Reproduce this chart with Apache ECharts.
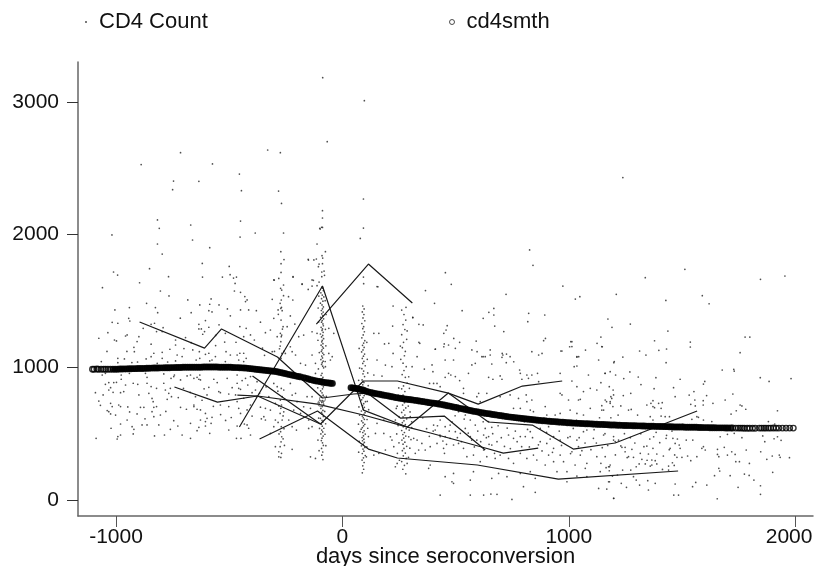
<!DOCTYPE html>
<html>
<head>
<meta charset="utf-8">
<style>html,body{margin:0;padding:0;background:#fff}#chart{width:815px;height:566px}</style>
<script src="https://cdn.jsdelivr.net/npm/echarts@6/dist/echarts.min.js"></script>
</head>
<body>
<div id="chart"></div>
<script>
// Everything below: [days, cd4]

const xTicks = [-1000, 0, 1000, 2000];
const yTicks = [0, 1000, 2000, 3000];

// scatter, left of seroconversion
const dotsLeft = [
[-87,3182],[-67,2700],[-330,2637],[-274,2617],[-715,2617],[-889,2527],[-574,2532],[-455,2456],[-746,2403],[-634,2401],[-750,2338],[-446,2331],[-282,2328],[-269,2235],[-817,2110],[-450,2102],[-670,2072],[-809,2047],[-1018,1997],[-385,2012],[-260,2012],[-452,1981],[-662,1959],[-817,1929],[-586,1901],[-796,1853],[-150,1808],[-619,1783],[-500,1760],[-852,1743],[-1011,1718],[-993,1695],[-496,1698],[-768,1683],[-618,1680],[-530,1680],[-468,1680],[-481,1672],[-218,1680],[-128,1655],[-301,1657],[-896,1637],[-474,1632],[-178,1625],[-260,1620],[-134,1612],[-1060,1600],
[-804,1575],[-683,1508],[-580,1515],[-630,1470],[-586,1475],[-545,1470],[-941,1450],[-826,1450],[-816,1412],[-1005,1432],[-590,1427],[-576,1417],[-477,1575],[-450,1565],[-431,1533],[-421,1508],[-428,1495],[-450,1432],[-414,1432],[-380,1427],[-944,1369],[-939,1349],[-1017,1339],[-992,1332],[-1036,1261],[-605,1352],[-634,1324],[-634,1289],[-623,1289],[-590,1302],[-609,1269],[-617,1249],[-830,1332],[-845,1324],[-880,1294],[-792,1299],[-796,1269],[-821,1269],[-951,1244],[-958,1236],[-1076,1219],[-1007,1206],[-998,1199],[-899,1231],[-907,1194],[-845,1174],[-737,1206],[-737,1168],[-693,1224],[-453,1307],[-425,1294],[-406,1244],[-389,1206],[-436,1231],[-470,1189],[-517,1256],[-514,1118],[-661,1131],[-632,1118],[-605,1098],[-590,1106],[-921,1151],[-919,1118],[-762,1136],[-833,1106],[-796,1113],[-730,1093],[-737,1048],[-708,1081],[-646,1055],[-630,1068],[-576,1055],[-561,1081],[-586,1048],[-992,1068],[-992,1035],[-963,1063],[-867,1063],[-818,1030],[-796,1068],[-495,1093],[-465,1093],[-453,1106],[-436,1106],[-458,1055],[-436,1043],[-425,1068],[-517,1043],
[-1061,942],[-1047,955],[-977,910],[-977,942],[-941,955],[-870,955],[-863,925],[-789,950],[-742,942],[-1032,885],[-1010,885],[-998,887],[-1047,872],[-1024,847],[-1032,829],[-958,867],[-966,817],[-980,809],[-1091,809],[-1057,792],[-1076,746],[-1024,729],[-988,716],[-980,704],[-1032,666],[-1039,674],[-1017,704],[-924,880],[-904,872],[-863,880],[-845,855],[-789,880],[-821,842],[-760,842],[-782,829],[-767,804],[-755,779],[-774,759],[-855,804],[-899,792],[-841,766],[-836,741],[-892,699],[-877,699],[-833,699],[-821,704],[-951,603],[-980,573],[-929,553],[-921,533],[-924,498],[-1022,541],[-885,566],[-863,566],[-811,566],[-980,490],[-992,478],[-1088,465],[-995,460],[-833,628],[-841,666],[-804,641],[-907,649],[-1024,649],
[-745,930],[-757,917],[-715,905],[-686,935],[-671,942],[-656,917],[-642,925],[-630,942],[-627,905],[-634,910],[-568,910],[-553,885],[-546,817],[-590,849],[-598,792],[-649,779],[-715,699],[-689,684],[-656,716],[-642,684],[-627,679],[-605,653],[-598,616],[-627,603],[-656,704],[-745,598],[-727,558],[-760,533],[-671,578],[-634,548],[-642,523],[-605,591],[-605,558],[-580,578],[-576,623],[-830,483],[-786,490],[-708,490],[-671,465],[-586,503],[-502,528],[-465,558],[-433,573],[-421,566],[-414,541],[-406,490],[-468,465],[-448,465],
[-509,917],[-465,942],[-428,917],[-406,930],[-443,900],[-465,880],[-377,892],[-418,867],[-458,842],[-450,834],[-539,809],[-502,799],[-487,847],[-472,792],[-436,767],[-399,809],[-384,829],[-380,779],[-539,716],[-502,704],[-465,742],[-450,653],[-421,679],[-399,633],[-406,716],[-458,691],
[-303,1658],[-218,1683],[-178,1628],[-134,1658],[-151,1587],[-238,1532],[-219,1507],[-310,1512],[-284,1432],[-230,1387],[-303,1369],[-210,1326],[-244,1306],[-318,1281],[-340,1261],[-288,1231],[-134,1268],[-60,1294],[-38,1256],[-171,1243],[-193,1231],[-112,1256],[-230,1155],[-252,1105],[-310,1118],[-222,1118],[-185,1030],[-207,1093],[-163,1017],[-134,1093],[-119,1030],[-60,1105],[-53,1055],[-45,1080],[-75,1005],[-119,954],
[-303,879],[-288,854],[-259,829],[-222,791],[-207,804],[-230,879],[-156,779],[-200,741],[-171,703],[-134,779],[-141,691],[-215,678],[-296,728],[-340,691],[-347,628],[-318,678],[-296,603],[-237,603],[-222,553],[-203,527],[-149,540],[-134,553],[-185,653],[-303,553],[-318,502],[-340,603],[-296,402],[-281,364],[-281,326],[-222,382],[-141,326],[-119,314],[-149,603],[-151,1814],[-126,1809],[-112,1929],[-75,1871],
[-698,1001],[-702,842],[-611,838],[-1013,812],[-1069,714],[-1002,640],[-948,702],[-940,664],[-872,612],[-780,668],[-725,772],[-672,811],[-620,752],[-570,706],[-538,644],[-516,600],[-491,622],[-362,700],[-358,612],[-366,804],[-337,853],[-325,780],[-300,1120],[-344,1090],[-520,1190],[-560,1164],[-700,1141],[-668,1186],[-952,1120],[-1040,1120],[-1065,1043],[-1020,980],[-930,1036],[-905,1040],[-845,1080],[-772,1040],[-560,1240],[-545,1320],[-716,1370],[-668,1412],[-865,1482],[-766,1538],[-495,1388],[-508,1440],[-353,1145],[-362,1340]
];

// stacks of visits around day -270
const dotsVisitA = [
[-272,1871],[-271,1781],[-271,1715],[-273,1595],[-268,1582],[-270,1507],[-275,1482],[-269,1452],[-272,1444],[-266,1427],[-271,1356],[-274,1256],[-268,1243],[-270,1231],[-272,1193],[-275,1160],[-267,1105],[-271,1068],[-270,841],[-266,779],[-274,753],[-269,716],[-272,691],[-275,653],[-266,603],[-270,553],[-273,515],[-268,477],[-271,439],[-275,402],[-269,352],[-272,321],
[-258,1812],[-281,1670],[-260,1540],[-283,1399],[-262,1306],[-265,1288],[-278,1140],[-259,1120],[-285,820],[-255,760],[-281,708],[-259,665],[-262,634],[-284,585],[-258,538],[-280,498],[-262,461],[-256,412]
];

// stack of visits around day -90
const dotsVisitB = [
[-88,2180],[-88,2125],[-88,2054],[-98,2042],[-92,2055],[-100,2047],[-90,1841],[-87,1823],[-115,1816],[-103,1778],[-88,1781],[-106,1758],[-81,1725],[-91,1718],[-79,1693],[-91,1683],[-103,1642],[-112,1615],[-91,1602],[-87,1596],[-84,1578],[-95,1561],[-89,1544],[-82,1530],[-92,1517],[-86,1498],[-97,1483],[-90,1470],[-84,1455],[-88,1441],[-93,1428],[-85,1416],[-91,1403],[-87,1388],[-96,1376],[-83,1365],[-89,1352],[-92,1340],[-86,1327],[-84,1313],[-94,1301],[-88,1289],[-90,1278],[-85,1264],[-97,1251],[-87,1240],[-92,1229],[-83,1216],[-89,1203],[-91,1192],[-86,1178],[-94,1167],[-88,1155],[-84,1144],[-90,1132],[-93,1120],[-87,1107],[-82,1096],[-91,1085],[-88,1071],[-95,1058],[-85,1046],[-89,1035],[-92,1022],[-87,1009],[-83,996],[-90,955],[-94,940],[-86,925],[-89,912],[-92,870],[-84,853],[-88,838],[-96,822],[-90,808],[-85,790],[-93,775],[-87,750],[-91,735],[-83,720],[-89,704],[-95,690],[-86,675],[-92,661],[-88,647],[-84,630],[-97,616],[-90,601],[-86,588],[-93,572],[-89,557],[-82,541],[-91,527],[-87,513],[-95,498],[-85,482],[-90,466],[-93,448],[-88,431],[-84,412],[-92,389],[-87,362],[-91,338],[-86,305],
[-104,1537],[-76,1502],[-107,1447],[-72,1398],[-105,1342],[-75,1286],[-108,1204],[-73,1162],[-102,1111],[-76,1044],[-106,988],[-74,884],[-109,846],[-71,782],[-103,732],[-78,668],[-105,618],[-74,575],[-101,540],[-77,496],[-108,452],[-73,410],[-103,372]
];

// stack of visits around day 95
const dotsVisitC = [
[97,3009],[93,2268],[93,2049],[79,1971],[93,1680],[94,1630],[90,1462],[96,1440],[88,1417],[95,1398],[91,1372],[99,1351],[86,1330],[94,1306],[90,1291],[97,1268],[92,1244],[86,1222],[99,1201],[94,1183],[89,1166],[96,1150],[91,1131],[85,1116],[98,1100],[93,1084],[88,1067],[95,1045],[90,1029],[101,1012],[86,990],[94,972],[91,951],[98,930],[87,905],[95,886],[90,868],[83,850],[99,834],[93,818],[88,803],[96,787],[91,771],[85,755],[102,741],[94,726],[89,712],[97,699],[92,685],[84,671],[100,658],[95,646],[88,633],[92,620],[97,608],[85,596],[91,583],[99,571],[94,559],[88,546],[83,534],[96,522],[90,509],[101,497],[93,484],[87,471],[95,459],[89,447],[97,434],[92,421],[84,409],[99,396],[91,384],[95,368],[88,351],[101,335],[93,318],[87,301],[96,283],[90,258],[94,232],[88,205],
[108,1188],[74,1142],[110,1060],[76,994],[112,958],[72,902],[114,862],[78,790],[110,744],[73,702],[116,681],[76,640],[109,607],[71,572],[112,541],[78,515],[115,478],[74,442],[108,400],[72,361],[106,326]
];

// stack of visits around day 270
const dotsVisitD = [
[262,1431],[272,1398],[280,1356],[268,1322],[276,1285],[262,1246],[284,1211],[270,1188],[265,1148],[278,1120],[274,1087],[258,1060],[268,1031],[282,1005],[272,976],[264,945],[278,925],[286,882],[270,860],[262,838],[276,818],[268,791],[283,772],[258,755],[274,734],[266,716],[280,694],[271,678],[262,660],[276,641],[268,626],[284,612],[272,597],[265,583],[278,568],[269,553],[282,538],[262,524],[274,509],[267,494],[280,482],[271,467],[263,452],[276,436],[268,421],[284,405],[272,389],[265,372],[278,354],[269,333],[282,314],[262,290],[274,262],[267,232],[280,198],
[296,842],[247,790],[302,751],[242,707],[299,664],[250,628],[306,590],[246,561],[295,527],[240,498],[303,456],[250,431],[298,391],[243,352],[292,322],[252,300],[306,546],[238,690],[291,708],[249,845]
];

// scatter, right of seroconversion
const dotsRight = [
[455,1713],[481,1625],[157,1607],[827,1884],[842,1768],[974,1612],[1239,2429],[1513,1738],[1338,1675],[1847,1663],[1955,1688],[1590,1540],[1049,1532],[1029,1514],[1210,1550],[1429,1504],[1620,1479],[1173,1364],[1272,1326],[1191,1301],[1438,1273],[1142,1228],[1779,1228],[1800,1228],[1014,1193],[1379,1200],[1537,1190],[1004,1155],[1148,1155],[1537,1153],[1398,1128],[1432,1138],[1313,1123],[965,1123],[1757,1110],[1341,1092],[1036,1077],[1239,1077],
[367,1578],[723,1550],[407,1482],[529,1427],[669,1444],[647,1414],[669,1394],[622,1369],[823,1407],[894,1394],[311,1377],[819,1344],[338,1324],[357,1319],[463,1314],[673,1311],[713,1269],[286,1274],[458,1281],[448,1256],[492,1218],[338,1188],[411,1138],[595,1118],[622,1080],[448,1155],[499,1143],[897,1218],[1125,1181],[1074,1130],[1044,1080],[882,1105],[725,1100],[706,1105],[757,1042],
[224,1462],[153,1608],[281,1452],[311,1374],[222,1311],[161,1256],[139,1256],[186,1176],[205,1181],[224,1105],[153,1055],[190,1017],[139,942],[175,934],[219,1005],[342,1181],[256,1160],[330,1080],[308,1005],[293,929],[190,377],[139,339],[153,578],[183,502],[212,477],[227,402],[234,603],[219,452],[293,477],[315,465],[337,377],[322,352],[300,628],[330,452],[242,276],[234,251],[286,276],[161,352],[146,502],[183,603],
[410,1136],[450,1176],[469,1168],[518,1188],[591,1198],[572,1131],[653,1131],[616,1080],[631,1080],[653,1093],[705,1075],[709,1093],[741,1080],[837,1118],[867,1093],[889,1201],[970,1123],[1009,1193],[1014,1156],[1146,1156],[1036,1080],[1132,1055],[1201,1043],[1024,1005],[1036,1010],[1087,942],[1161,955],[454,1055],[491,1055],[396,1018],[362,987],[400,967],[469,955],[479,942],[499,930],[518,900],[454,925],[403,879],[385,879],[418,879],[432,854],[535,842],[557,955],[587,1030],[572,1018],[660,1025],[724,1035],[646,925],[665,910],[705,910],[697,935],[783,980],[786,955],[815,942],[837,942],[862,955],[822,917],[867,892],[793,910],[962,955],[1014,897],[1036,854],[1065,817],[1095,842],[962,804],[970,792],[999,754],[1051,759],[1043,754],[1124,829],[1161,754],[1198,792],[1190,766],[1183,729],[1146,678],[1095,691],[1065,641],[1036,653],[1006,678],[962,653],[940,641],[903,641],[844,666],[830,678],[896,704],[837,754],[812,792],[815,741],[778,766],[741,792],[756,691],[786,691],[697,779],[638,804],[602,804],[594,779],[609,741],[535,804],
[513,666],[543,641],[565,603],[587,565],[646,591],[660,548],[631,540],[624,490],[646,478],[683,440],[734,490],[756,465],[786,478],[808,478],[830,515],[874,540],[911,553],[933,478],[962,452],[1006,478],[1036,452],[1043,402],[1065,515],[1080,528],[1109,465],[1154,490],[1198,478],[1220,452],[874,440],[903,427],[933,390],[911,339],[933,289],[962,339],[977,289],[1014,364],[1051,339],[1080,277],[1124,327],[1161,327],[1176,251],[1183,264],[1139,214],[1073,239],[1028,264],[992,214],[948,214],[896,264],[859,302],[844,339],[815,314],[786,352],[756,277],[734,314],[697,339],[675,314],[638,327],[609,289],[579,339],[550,327],[535,390],[513,427],[491,415],[476,465],[454,478],[432,478],[410,528],[403,565],[432,603],[454,553],[476,565],[499,515],[521,503],[543,540],[565,478],[594,452],[660,415],[624,377],[447,390],[451,352],[388,264],[381,239],[366,377],[351,427],[388,402],[418,427],[491,201],[484,138],[491,126],[454,176],[565,151],[579,214],[660,164],[690,201],[727,176],[786,201],[830,214],[852,164],[992,138],[1036,181],[1080,176],[1132,88],[1176,138],[1198,13],[432,38],[565,38],[624,38],[656,45],[683,43],[749,5],[852,58],[800,101],
[1430,1035],[1199,1035],[1678,980],[1729,985],[1731,972],[1160,955],[1183,967],[1207,942],[1270,965],[1307,927],[1385,922],[1846,922],[1885,894],[1982,915],[1243,915],[1492,910],[1601,894],[1595,874],[1319,870],[1377,839],[1463,847],[1142,884],[1179,854],[1196,829],[1274,804],[1532,791],[1553,817],[1725,799],[1691,754],[1241,787],[1470,779],[1609,787],[1186,779],[1167,741],[1183,741],[1637,729],[1594,749],[1594,716],[1557,754],[1539,721],[1559,709],[1757,716],[1765,709],[1782,684],[1740,673],[1717,648],[1922,673],[1146,711],[1154,678],[1195,704],[1230,709],[1264,678],[1276,683],[1345,716],[1363,729],[1372,749],[1397,729],[1413,734],[1372,704],[1379,696],[1408,691],[1426,628],[1360,628],[1372,603],[1408,633],[1445,628],[1566,628],[1573,623],[1595,603],[1544,608],[1632,591],[1504,570],[1882,591],[1910,573],
[1669,477],[1701,495],[1731,503],[1765,470],[1857,483],[1866,440],[1907,462],[1922,477],[1938,450],[1657,382],[1657,344],[1663,327],[1687,397],[1701,339],[1720,364],[1735,344],[1784,377],[1848,364],[1899,332],[1930,339],[1934,322],[1975,319],[1875,307],[1738,289],[1754,289],[1798,276],[1901,209],[1663,239],[1667,219],[1644,184],[1713,184],[1776,196],[1797,186],[1818,151],[1847,108],[1748,96],[1847,43],[1656,10],[1610,113],[1561,133],[1547,101],[1464,38],[1485,38],[1470,121],[1199,13],[1255,96],[1232,126],[1180,138],[1168,83],[1349,146],[1352,76],[1382,126],[1286,176],[1298,151],[1313,113],[1215,189],[1193,181],
[1142,277],[1165,244],[1180,251],[1179,221],[1238,226],[1274,226],[1298,251],[1311,272],[1338,272],[1367,264],[1360,256],[1389,272],[1414,231],[1441,256],[1458,281],[1466,261],[1441,226],[1198,452],[1205,440],[1235,397],[1249,397],[1279,382],[1249,364],[1264,327],[1286,322],[1316,352],[1345,407],[1352,347],[1389,347],[1323,307],[1367,302],[1382,297],[1448,390],[1470,427],[1488,415],[1492,390],[1478,322],[1500,322],[1525,332],[1539,297],[1566,327],[1588,390],[1603,377],[1595,402],[1519,452],[1548,452],[1430,465],[1460,465],[1375,477],
[355,620],[372,538],[384,480],[401,520],[420,560],[431,490],[444,445],[460,420],[472,520],[485,588],[498,635],[508,470],[526,440],[538,610],[556,505],[571,452],[583,400],[598,520],[611,440],[622,590],[636,470],[648,420],[664,500],[672,352],[688,560],[702,470],[716,404],[728,542],[742,388],[752,610],[764,520],[772,440],[792,402],[804,590],[818,532],[826,400],[840,470],[853,598],[866,416],[882,370],[890,615],[902,510],[918,460],[928,360],[945,590],[958,520],[968,412],[984,596],[996,470],[1008,350],[1020,540],[1034,600],[1046,470],[1058,372],[1072,430],[1084,590],[1098,380],[1112,530],[1122,430],[1136,620],[1148,395],[1160,500],[1172,412],[1186,620],[1206,340],[1218,640],[1230,408],[1246,500],[1258,320],[1272,470],[1292,430],[1304,640],[1318,500],[1332,402],[1346,300],[1358,460],[1372,390],[1386,510],[1402,432],[1418,332],[1432,488],[1444,380],[1456,520],[1468,340],[1480,460]
];

// the smoothed curve, both runs of it
const smoothLeft = [
[-1104,986],[-1097,985],[-1085,987],[-1078,985],[-1066,986],[-1055,985],[-1046,986],[-1036,985],[-1025,986],[-1014,985],[-1004,986],[-994,986],[-984,987],[-974,987],[-964,988],[-954,988],[-944,989],[-934,989],[-924,990],[-914,990],[-904,991],[-894,991],[-884,991],[-874,992],[-864,993],[-854,993],[-844,994],[-834,995],[-824,995],[-814,995],[-804,996],[-794,996],[-784,997],[-774,997],[-764,997],[-754,998],[-744,998],[-734,999],[-724,999],[-714,999],[-704,1000],[-694,1000],[-684,1000],[-674,1000],[-664,1001],[-654,1001],[-644,1001],[-634,1001],[-624,1001],[-614,1002],[-604,1002],[-594,1002],[-584,1002],[-574,1002],[-564,1002],[-554,1002],[-544,1001],[-534,1001],[-524,1001],[-514,1000],[-504,1000],[-494,1000],[-484,999],[-474,998],[-464,998],[-454,997],[-444,996],[-434,995],[-424,994],[-414,992],[-404,990],[-394,988],[-384,986],[-374,984],[-364,982],[-354,980],[-344,978],[-334,976],[-324,974],[-314,972],[-304,970],[-294,968],[-284,965],[-274,961],[-264,957],[-254,953],[-244,949],[-234,945],[-224,942],[-214,938],[-204,934],[-194,931],[-184,928],[-170,922],[-160,917],[-150,912],[-140,907],[-130,903],[-120,899],[-110,896],[-100,893],[-90,889],[-80,886],[-70,884],[-60,882],[-52,880],[-44,879]
];
const smoothRight = [
[38,847],[46,845],[54,842],[62,840],[70,837],[78,834],[86,831],[94,827],[104,820],[114,815],[124,811],[134,807],[144,803],[154,800],[164,797],[174,793],[184,790],[194,787],[204,784],[214,780],[224,777],[234,773],[244,770],[254,767],[264,765],[274,762],[284,760],[294,758],[304,756],[314,753],[324,751],[334,748],[344,745],[354,742],[364,740],[374,737],[384,734],[394,732],[404,730],[414,727],[424,724],[434,721],[444,718],[454,714],[464,711],[474,708],[484,704],[494,700],[504,697],[514,693],[524,689],[534,686],[544,682],[554,678],[564,675],[574,671],[584,668],[594,665],[604,662],[614,659],[624,656],[634,653],[644,651],[654,648],[664,645],[674,643],[684,640],[694,637],[704,635],[714,632],[724,630],[734,627],[744,625],[754,623],[764,621],[774,619],[784,617],[794,615],[804,613],[814,611],[824,609],[834,607],[844,605],[854,603],[864,601],[874,600],[884,598],[894,597],[904,595],[914,594],[924,592],[934,591],[944,590],[954,588],[964,587],[974,586],[984,585],[994,583],[1004,582],[1014,581],[1024,580],[1034,579],[1044,578],[1054,577],[1064,576],[1074,575],[1084,575],[1094,574],[1104,573],[1114,572],[1124,571],[1134,570],[1144,570],[1154,569],[1164,568],[1174,567],[1184,566],[1194,565],[1204,565],[1214,564],[1224,564],[1234,563],[1244,562],[1254,562],[1264,561],[1274,561],[1284,560],[1294,560],[1304,559],[1314,559],[1324,558],[1334,558],[1344,557],[1354,557],[1364,556],[1374,556],[1384,555],[1394,555],[1404,554],[1414,554],[1424,553],[1434,553],[1444,552],[1454,552],[1464,551],[1474,551],[1484,551],[1494,550],[1504,550],[1514,549],[1524,549],[1534,549],[1544,548],[1554,548],[1564,548],[1574,547],[1584,547],[1594,546],[1604,546],[1614,546],[1624,545],[1634,545],[1644,545],[1654,544],[1664,544],[1674,544],[1684,544],[1694,543],[1704,543],[1716,543],[1724,543],[1738,542],[1749,542],[1758,542],[1767,542],[1776,541],[1788,541],[1799,541],[1812,541],[1824,541],[1842,542],[1852,542],[1862,542],[1871,542],[1882,542],[1892,542],[1904,543],[1916,542],[1928,542],[1944,542],[1960,542],[1976,542],[1992,542]
];
// loose open rings left around the stack at day -90
const smoothStray = [[-88,762],[-96,728]];

// seven subject trajectories
const subject1 = [[-896,1341],[-609,1145],[-534,1289],[-287,1078],[-88,769],[49,799],[110,806],[256,618],[450,633],[631,377]];
const subject2 = [[-455,550],[-88,1613],[93,678],[287,550],[468,806],[645,588],[839,565],[1020,384],[1205,430],[1567,671]];
const subject3 = [[-397,934],[-97,573],[93,897],[243,897],[468,806],[600,723],[795,859],[971,897]];
const subject4 = [[-742,852],[-552,738],[-375,784],[-97,573]];
const subject5 = [[-464,791],[-375,784],[-110,723],[93,641],[287,550],[389,505],[631,392],[711,354],[865,392]];
const subject6 = [[-366,460],[-110,671],[115,384],[243,317],[596,264],[954,158],[1483,219]];
const subject7 = [[-115,1326],[115,1778],[309,1485]];

const subjects = [subject1, subject2, subject3, subject4, subject5, subject6, subject7];

const FONT = '"Liberation Sans", Arial, sans-serif';
const chart = echarts.init(document.getElementById('chart'), null, { renderer: 'canvas' });

const lineSeries = subjects.map(pts => ({
    type: 'line',
    data: pts,
    showSymbol: false,
    symbol: 'none',
    silent: true,
    z: 3,
    lineStyle: { color: '#1a1a1a', width: 1.2 }
}));

// the rings only read as rings at the two ends of the curve, in between they merge
function isMerged(d) {
    return d[0] > -1020 && d[0] < 1720;
}

chart.setOption({
    animation: false,
    backgroundColor: '#fff',
    textStyle: { fontFamily: FONT },
    legend: [
        { left: 80, top: 6, data: ['CD4 Count'], icon: 'circle', itemWidth: 2, itemHeight: 2,
          textStyle: { fontFamily: FONT, fontSize: 22, color: '#111', padding: [0, 0, 0, 7] } },
        { left: 444, top: 6, data: ['cd4smth'], icon: 'circle', itemWidth: 5, itemHeight: 5,
          itemStyle: { borderWidth: 1, color: 'transparent', borderColor: '#222' },
          textStyle: { fontFamily: FONT, fontSize: 22, color: '#111', padding: [0, 0, 0, 7] } }
    ],
    grid: { left: 78, right: 2, top: 62, bottom: 50, outerBoundsMode: 'none' },
    xAxis: {
        type: 'value', min: -1168, max: 2079,
        name: 'days since seroconversion', nameLocation: 'middle', nameGap: 30, nameMoveOverlap: false,
        nameTextStyle: { fontFamily: FONT, fontSize: 22, color: '#111' },
        splitLine: { show: false },
        axisLine: { show: true, onZero: false, lineStyle: { color: '#666', width: 1.5 } },
        axisTick: { show: true, length: 11, customValues: xTicks, lineStyle: { color: '#555', width: 1 } },
        axisLabel: {
            customValues: xTicks, margin: 11, fontFamily: FONT, fontSize: 21, color: '#111',
            formatter: v => v === 2000 ? '{last|2000}' : String(v),
            rich: { last: { fontFamily: FONT, fontSize: 21, color: '#111', padding: [0, 12, 0, 0] } }
        }
    },
    yAxis: {
        type: 'value', min: -120, max: 3300,
        splitLine: { show: false },
        axisLine: { show: true, onZero: false, lineStyle: { color: '#666', width: 1.5 } },
        axisTick: { show: true, length: 11, customValues: yTicks, lineStyle: { color: '#333', width: 1 } },
        axisLabel: {
            customValues: yTicks, margin: 19, fontFamily: FONT, fontSize: 21, color: '#111',
            formatter: v => String(v)
        }
    },
    series: [
        {
            name: 'CD4 Count', type: 'scatter', symbol: 'circle', symbolSize: 1.7, silent: true, z: 2,
            itemStyle: { color: '#222' },
            data: dotsLeft.concat(dotsVisitA, dotsVisitB, dotsVisitC, dotsVisitD, dotsRight)
        },
        {
            name: 'cd4smth', type: 'scatter', symbol: 'circle', symbolSize: 5.5, silent: true, z: 4,
            itemStyle: { color: p => isMerged(p.data) ? '#000' : 'transparent', borderColor: '#000', borderWidth: 1.4 },
            data: smoothLeft.concat(smoothRight)
        },
        {
            name: 'cd4smth', type: 'scatter', symbol: 'circle', symbolSize: 6, silent: true, z: 4,
            itemStyle: { color: 'transparent', borderColor: '#555', borderWidth: 1 },
            data: smoothStray
        }
    ].concat(lineSeries)
});
</script>
</body>
</html>
